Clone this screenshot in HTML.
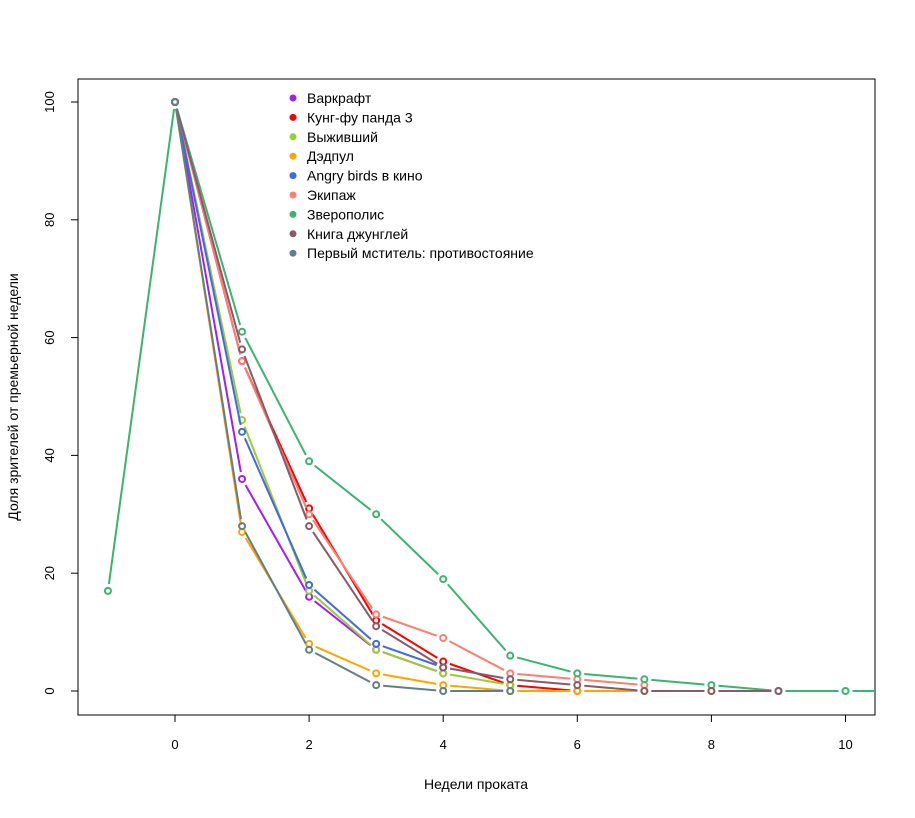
<!DOCTYPE html>
<html><head><meta charset="utf-8"><style>body{margin:0;background:#fff}svg text{font-family:"Liberation Sans",Arial,sans-serif;fill:#000}</style></head>
<body>
<svg id="c" width="915" height="813" xmlns="http://www.w3.org/2000/svg"></svg>
<script>
const seriesNames=["Варкрафт","Кунг-фу панда 3","Выживший","Дэдпул","Angry birds в кино","Экипаж","Зверополис","Книга джунглей","Первый мститель: противостояние"];
const seriesColors=["#A020F0","#FF0000","#9ACD32","#FFA500","#4169E1","#FA8072","#3CB371","#845C6A","#5F8086"];
const startWeeks=[0,0,0,0,0,0,-1,0,0];
const v0=[100,36,16,7,3];
const v1=[100,56,31,12,5,1,0];
const v2=[100,46,17,7,3,1];
const v3=[100,27,8,3,1,0,0,0,0];
const v4=[100,44,18,8,4];
const v5=[100,56,30,13,9,3,2,1];
const v6=[17,100,61,39,30,19,6,3,2,1,0,0,0];
const v7=[100,58,28,11,4,2,1,0,0,0];
const v8=[100,28,7,1,0,0];
const allValues=[v0,v1,v2,v3,v4,v5,v6,v7,v8];
const xTicks=[0,2,4,6,8,10];
const yTicks=[0,20,40,60,80,100];
const svg=document.getElementById('c');const NS="http://www.w3.org/2000/svg";
const X=w=>175+w*67.05, Y=v=>691-v*5.89;
function mk(t,a,p){const e=document.createElementNS(NS,t);for(const k in a)e.setAttribute(k,a[k]);(p||svg).appendChild(e);return e;}
const box=mk('rect',{x:78,y:79,width:797,height:636,fill:'none',stroke:'#000'});

const clip=mk('clipPath',{id:'cl'});mk('rect',{x:78,y:79,width:797,height:636},clip);
const plot=mk('g',{'clip-path':'url(#cl)'});

allValues.forEach((vals,s)=>{
 const g=mk('g',{},plot);
 
 
 const c=seriesColors[s];const gap=7;
 for(let i=0;i<vals.length-1;i++){
  const x1=X(startWeeks[s]+i),y1=Y(vals[i]),x2=X(startWeeks[s]+i+1),y2=Y(vals[i+1]);
  const d=Math.hypot(x2-x1,y2-y1);if(d<2*gap)continue;
  const ux=(x2-x1)/d,uy=(y2-y1)/d;
  const l=mk('line',{x1:x1+ux*gap,y1:y1+uy*gap,x2:x2-ux*gap,y2:y2-uy*gap,stroke:c,'stroke-width':2},g);
  
  
 }
 vals.forEach((v,i)=>{
  const p=mk('circle',{cx:X(startWeeks[s]+i),cy:Y(v),r:3,fill:'none',stroke:c,'stroke-width':2},g);
  
  
 });
});
xTicks.forEach(t=>{mk('line',{x1:X(t),y1:715,x2:X(t),y2:722,stroke:'#000'});
 const e=mk('text',{x:X(t),y:749,'text-anchor':'middle','font-size':13});e.textContent=t;
 });
mk('line',{x1:X(0),y1:715,x2:X(10),y2:715,stroke:'#000'});
yTicks.forEach(t=>{mk('line',{x1:78,y1:Y(t),x2:71,y2:Y(t),stroke:'#000'});
 const e=mk('text',{x:0,y:0,'text-anchor':'middle','font-size':13,transform:`translate(54,${Y(t)}) rotate(-90)`});e.textContent=t;
 });
const xt=mk('text',{x:476,y:789,'text-anchor':'middle','font-size':14});xt.textContent='Недели проката';

const yt=mk('text',{x:0,y:0,'text-anchor':'middle','font-size':14,transform:'translate(18,397) rotate(-90)'});yt.textContent='Доля зрителей от премьерной недели';

seriesNames.forEach((n,i)=>{const y=98+i*19.4;
 const g=mk('g',{});
 
 
 mk('circle',{cx:293,cy:y,r:3.5,fill:seriesColors[i]},g);
 const t=mk('text',{x:307,y:y+5,'font-size':14},g);t.textContent=n;});
</script>
</body></html>
